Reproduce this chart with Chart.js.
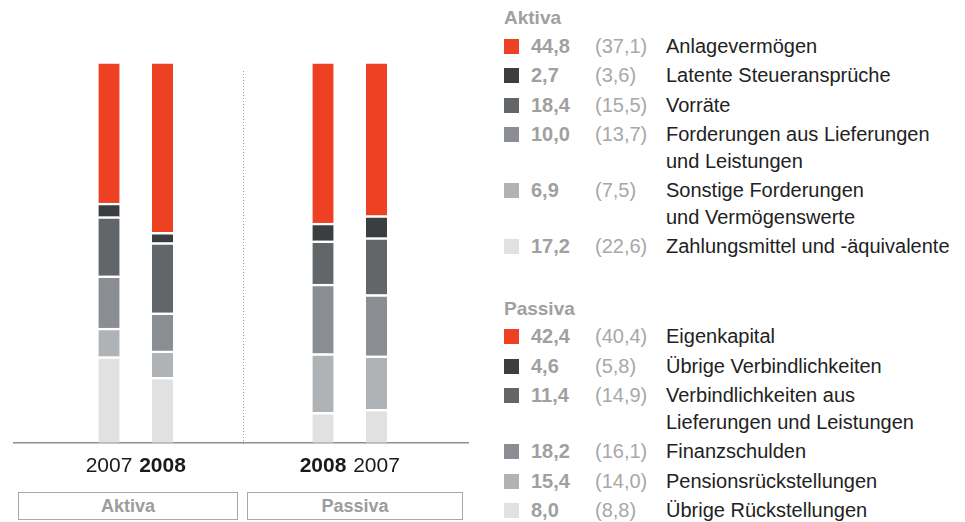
<!DOCTYPE html>
<html>
<head>
<meta charset="utf-8">
<script src="https://cdn.jsdelivr.net/npm/chart.js@4"></script>
<style>
  body { margin: 0; background: #fff; font-family: "Liberation Sans", Arial, sans-serif; }
  #wrap { position: relative; width: 965px; height: 522px; overflow: hidden; }
  #chartBox { position: absolute; left: 0; top: 0; width: 480px; height: 492px; }
  .groupBox { position: absolute; top: 492px; height: 26px; border: 1px solid #a8a8a8; background: #fff;
              color: #9c9c9c; font-weight: bold; font-size: 18px; line-height: 26px; text-align: center; }
  .block { position: absolute; left: 504px; width: 460px; }
  .head { color: #a0a0a0; font-weight: bold; font-size: 19px; line-height: 27px; height: 27px; }
  .row { position: relative; padding: 1.5px 0; font-size: 20px; line-height: 26.5px; }
  .sq { position: absolute; left: 0; top: 7.5px; width: 15px; height: 15px; }
  .v { position: absolute; left: 27px; color: #a0a0a0; font-weight: bold; }
  .p { position: absolute; left: 91px; color: #a8a8a8; }
  .t { margin-left: 162px; color: #222; }
</style>
</head>
<body>
<div id="wrap">
  <div id="chartBox"><canvas id="chart"></canvas></div>
  <div class="groupBox" style="left:18px; width:218px;">Aktiva</div>
  <div class="groupBox" style="left:247px; width:214px;">Passiva</div>
  <div class="block" id="aktivaLegend" style="top:4px;"></div>
  <div class="block" id="passivaLegend" style="top:294.5px;"></div>
</div>
<script>
// Bilanzstruktur in % (top segment first)
const aktivaLabels = ['Anlagevermögen', 'Latente Steueransprüche', 'Vorräte',
    'Forderungen aus Lieferungen|und Leistungen', 'Sonstige Forderungen|und Vermögenswerte',
    'Zahlungsmittel und -äquivalente'];
const aktiva2008 = [44.8, 2.7, 18.4, 10.0, 6.9, 17.2];
const aktiva2007 = [37.1, 3.6, 15.5, 13.7, 7.5, 22.6];

const passivaLabels = ['Eigenkapital', 'Übrige Verbindlichkeiten',
    'Verbindlichkeiten aus|Lieferungen und Leistungen', 'Finanzschulden',
    'Pensionsrückstellungen', 'Übrige Rückstellungen'];
const passiva2008 = [42.4, 4.6, 11.4, 18.2, 15.4, 8.0];
const passiva2007 = [40.4, 5.8, 14.9, 16.1, 14.0, 8.8];

const yearLabels = ['2007', '2008', '2008', '2007'];

// layout / style
const barSlots = [0, 1, 4, 5];
const layerColors = ['#ee4023', '#3b3e41', '#636669', '#8a8d91', '#b0b3b6', '#e0e1e0'];

function fmt(v) {
    return v.toFixed(1).replace('.', ',');
}

function buildLegend(el, title, labels, now, prev) {
    let html = '<div class="head">' + title + '</div>';
    labels.forEach(function(lbl, i) {
        html += '<div class="row">' +
            '<span class="sq" style="background:' + layerColors[i] + '"></span>' +
            '<span class="v">' + fmt(now[i]) + '</span>' +
            '<span class="p">(' + fmt(prev[i]) + ')</span>' +
            '<div class="t">' + lbl.split('|').join('<br>') + '</div></div>';
    });
    document.getElementById(el).innerHTML = html;
}
buildLegend('aktivaLegend', 'Aktiva', aktivaLabels, aktiva2008, aktiva2007);
buildLegend('passivaLegend', 'Passiva', passivaLabels, passiva2008, passiva2007);

// one dataset per layer, bottom layer first so it stacks from the axis
const datasets = [];
for (let k = layerColors.length - 1; k >= 0; k--) {
    const vals = [aktiva2007[k], aktiva2008[k], passiva2008[k], passiva2007[k]];
    datasets.push({
        label: aktivaLabels[k] + ' / ' + passivaLabels[k],
        data: vals.map((v, i) => ({ x: barSlots[i], y: v })),
        backgroundColor: layerColors[k],
        borderColor: '#ffffff',
        borderWidth: { top: 2.5, right: 0, bottom: 0, left: 0 },
        borderSkipped: false,
        barThickness: 21
    });
}

// dotted separator between Aktiva and Passiva
const separator = {
    id: 'separator',
    afterDatasetsDraw(chart) {
        const xs = chart.scales.x, ys = chart.scales.y;
        const x = Math.round(xs.getPixelForValue(2.5)) + 0.5;
        const c = chart.ctx;
        c.save();
        c.strokeStyle = '#9a9a9a';
        c.lineWidth = 1;
        c.setLineDash([1, 2]);
        c.beginPath();
        c.moveTo(x, ys.getPixelForValue(97.5));
        c.lineTo(x, chart.chartArea.bottom + 3);
        c.stroke();
        c.restore();
    }
};

const ctx = document.getElementById('chart').getContext('2d');
const myChart = new Chart(ctx, {
    type: 'bar',
    data: { datasets: datasets },
    plugins: [separator],
    options: {
        responsive: true,
        maintainAspectRatio: false,
        animation: false,
        layout: { padding: { top: 61.5, left: 14, right: 12, bottom: 2 } },
        plugins: { legend: { display: false }, tooltip: { enabled: false } },
        scales: {
            x: {
                type: 'linear',
                stacked: true,
                offset: false,
                min: -1.776,
                max: 6.71,
                afterBuildTicks: function(axis) {
                    axis.ticks = barSlots.map(v => ({ value: v }));
                },
                grid: { display: false, drawTicks: false, offset: false },
                border: { display: true, color: '#8e8e8e', width: 1.5 },
                ticks: {
                    padding: 11,
                    color: '#1a1a1a',
                    callback: function(value) {
                        return yearLabels[barSlots.indexOf(value)];
                    },
                    font: function(c) {
                        const bold = c.tick && c.tick.label === '2008';
                        return { family: '"Liberation Sans", Arial, sans-serif', size: 21, weight: bold ? 'bold' : 'normal' };
                    }
                }
            },
            y: {
                stacked: true,
                display: false,
                min: 0,
                max: 100
            }
        }
    }
});
</script>
</body>
</html>
